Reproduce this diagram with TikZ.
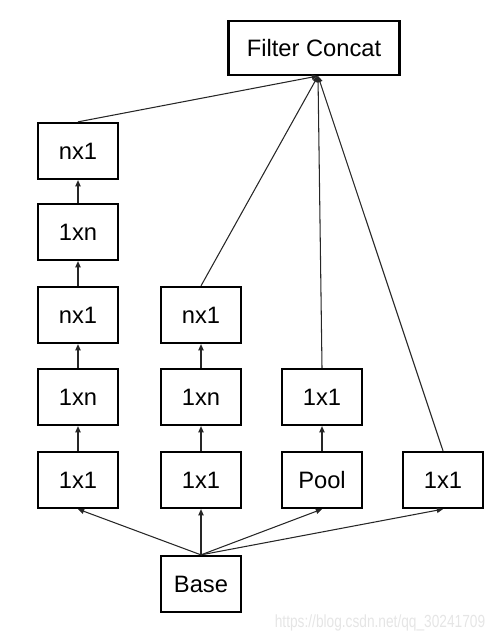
\documentclass[tikz,border=0pt]{standalone}
\usepackage{fontspec}
\setmainfont{Liberation Sans}
\usetikzlibrary{arrows.meta}

\begin{document}
\begin{tikzpicture}[
            x=0.02cm, y=-0.02cm,
            block/.style = {
                draw, line width=1.3pt,
                minimum width=1.6cm, minimum height=1.12cm,
                inner sep=0pt, font=\fontsize{13.5}{15}\selectfont
            },
            edge/.style = {
                line width=0.6pt, draw=black!85,
                -{Triangle[length=3.5pt,width=3pt]}
            }
            ]
            \useasboundingbox (0,0) rectangle (498,644);

            % Nodes
            \node[block, minimum width=3.42cm, minimum height=1.08cm] (fc) at (314,48) {Filter Concat};
            \coordinate (fcin) at (318,76);

            \node[block] (a5) at ( 78,151) {nx1};
            \node[block] (a4) at ( 78,232) {1xn};
            \node[block] (a3) at ( 78,315) {nx1};
            \node[block] (a2) at ( 78,397) {1xn};
            \node[block] (a1) at ( 78,480) {1x1};

            \node[block] (b3) at (201,315) {nx1};
            \node[block] (b2) at (201,397) {1xn};
            \node[block] (b1) at (201,480) {1x1};

            \node[block] (c2) at (322,397) {1x1};
            \node[block] (c1) at (322,480) {Pool};

            \node[block] (d1) at (443,480) {1x1};

            \node[block] (base) at (201,584) {Base};

            % Edges
            \draw[edge] (base.north) -- (a1.south);
            \draw[edge] (base.north) -- (b1.south);
            \draw[edge] (base.north) -- (c1.south);
            \draw[edge] (base.north) -- (d1.south);

            \draw[edge] (a1) -- (a2);
            \draw[edge] (a2) -- (a3);
            \draw[edge] (a3) -- (a4);
            \draw[edge] (a4) -- (a5);
            \draw[edge] (b1) -- (b2);
            \draw[edge] (b2) -- (b3);
            \draw[edge] (c1) -- (c2);

            \draw[edge] (a5.north) -- (fcin);
            \draw[edge] (b3.north) -- (fcin);
            \draw[edge] (c2.north) -- (fcin);
            \draw[edge] (d1.north) -- (fcin);

            \node[text=black!10, font=\fontsize{10}{12}\selectfont, xscale=0.78, anchor=east] (wm) at (490,623) {https://blog.csdn.net/qq\_30241709};
        \end{tikzpicture}
\end{document}
